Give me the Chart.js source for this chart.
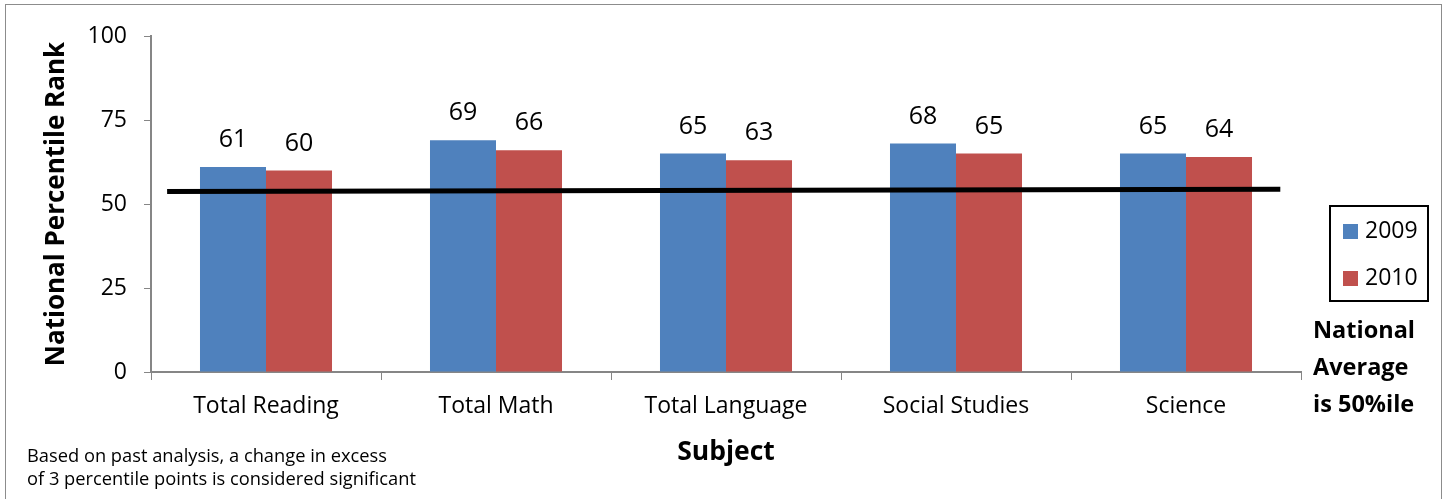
<!DOCTYPE html>
<html>
<head>
<meta charset="utf-8">
<script src="https://cdn.jsdelivr.net/npm/chart.js@4/dist/chart.umd.min.js"></script>
<style>
  body { margin: 0; background: #fff; font-family: "Open Sans", sans-serif; }
  #wrap { position: relative; width: 1447px; height: 499px; }
  #frame { position: absolute; left: 5px; top: 4px; width: 1437px; height: 500px; border: 1px solid #8c8c8c; box-sizing: border-box; }
  #legend { position: absolute; left: 1329px; top: 205px; width: 100px; height: 97px; border: 2px solid #000; box-sizing: border-box; font-size: 23px; }
  .item { position: absolute; left: 12px; height: 24px; line-height: 24px; }
  .item span { display: inline-block; width: 15px; height: 15px; margin-right: 7px; vertical-align: -1px; }
  #avg { position: absolute; left: 1313px; top: 311px; font-size: 23.5px; font-weight: bold; line-height: 37px; }
  #note { position: absolute; left: 27px; top: 443px; font-size: 18.3px; line-height: 23px; }
  canvas { position: absolute; left: 0; top: 0; }
</style>
</head>
<body>
<div id="wrap">
  <canvas id="myChart" width="1447" height="499"></canvas>
  <div id="frame"></div>
  <div id="legend">
    <div class="item" style="top:10px"><span style="background:#4f81bd"></span>2009</div>
    <div class="item" style="top:57px"><span style="background:#c0504d"></span>2010</div>
  </div>
  <div id="avg">National<br>Average<br>is 50%ile</div>
  <div id="note">Based on past analysis, a change in excess<br>of 3 percentile points is considered significant</div>
</div>
<script>
const subjects = ['Total Reading', 'Total Math', 'Total Language', 'Social Studies', 'Science'];
const scores2009 = [61, 69, 65, 68, 65];
const scores2010 = [60, 66, 63, 65, 64];
// black reference line, x in category index units
const avgLineX = [-0.43, 4.41];
const avgLineY = [53.7, 54.4];

// value labels above bars + the black line on top
const overlay = {
    id: 'overlay',
    afterDatasetsDraw(chart) {
        const ctx = chart.ctx;
        const xs = chart.scales.x, ys = chart.scales.y;
        ctx.save();
        ctx.font = '25px "Open Sans"';
        ctx.fillStyle = '#000';
        ctx.textAlign = 'center';
        ctx.textBaseline = 'middle';
        chart.data.datasets.forEach((ds, di) => {
            chart.getDatasetMeta(di).data.forEach((bar, i) => {
                ctx.fillText(ds.data[i], bar.x, bar.y - 27);
            });
        });
        ctx.strokeStyle = '#000';
        ctx.lineWidth = 5;
        ctx.beginPath();
        avgLineX.forEach((x, i) => {
            const px = xs.getPixelForValue(x), py = ys.getPixelForValue(avgLineY[i]);
            if (i === 0) ctx.moveTo(px, py); else ctx.lineTo(px, py);
        });
        ctx.stroke();
        ctx.restore();
    }
};

const data = {
    labels: subjects,
    datasets: [
        { label: '2009', data: scores2009, backgroundColor: '#4f81bd', categoryPercentage: 0.574, barPercentage: 1 },
        { label: '2010', data: scores2010, backgroundColor: '#c0504d', categoryPercentage: 0.574, barPercentage: 1 }
    ]
};

const chart = new Chart(document.getElementById('myChart'), {
    type: 'bar',
    data: data,
    options: {
        responsive: false,
        animation: false,
        layout: { padding: { top: 36, right: 146, left: 0, bottom: 0 } },
        plugins: { legend: { display: false }, tooltip: { enabled: false } },
        scales: {
            x: {
                grid: { display: true, drawOnChartArea: false, offset: true, tickLength: 8, color: '#868686' },
                border: { color: '#868686', width: 2 },
                ticks: { color: '#000', font: { family: 'Open Sans', size: 23 }, padding: 13 },
                title: { display: true, text: 'Subject', color: '#000', font: { family: 'Open Sans', size: 26.5, weight: 'bold' }, padding: { top: 0, bottom: 31 } },
                afterFit: s => { s.height = 127; }
            },
            y: {
                min: 0, max: 100,
                ticks: { stepSize: 25, color: '#000', font: { family: 'Open Sans', size: 23 }, padding: 17 },
                grid: { drawOnChartArea: false, tickLength: 7, color: '#868686' },
                border: { color: '#868686', width: 2 },
                title: { display: true, text: 'National Percentile Rank', color: '#000', font: { family: 'Open Sans', size: 26, weight: 'bold' }, padding: { top: 41, bottom: 0 } },
                afterFit: s => { s.width = 151; }
            }
        }
    },
    plugins: [overlay]
});
</script>
</body>
</html>
